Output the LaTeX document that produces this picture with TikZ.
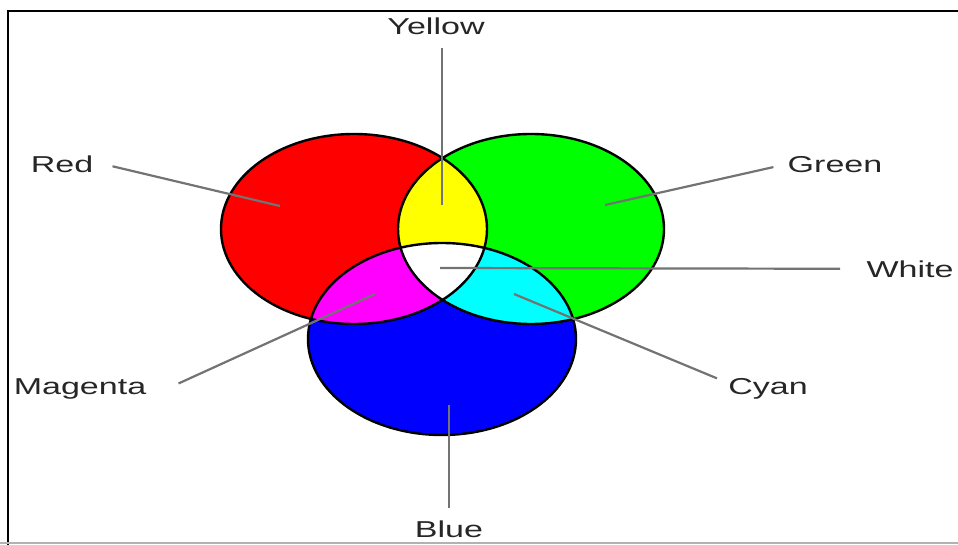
\documentclass[tikz,border=0pt]{standalone}
\usepackage{fontspec}
\setmainfont{Liberation Sans}
\usetikzlibrary{positioning}

\definecolor{addred}{RGB}{255,0,0}
\definecolor{addgreen}{RGB}{0,255,0}
\definecolor{addblue}{RGB}{0,0,255}
\definecolor{addyellow}{RGB}{255,255,0}
\definecolor{addmagenta}{RGB}{255,0,255}
\definecolor{addcyan}{RGB}{0,255,255}

\newcommand\redrim{(354,229) ellipse [x radius=133pt, y radius=95pt]}
\newcommand\greenrim{(531,229) ellipse [x radius=133pt, y radius=95pt]}
\newcommand\bluerim{(442,339) ellipse [x radius=134pt, y radius=96pt]}

\begin{document}
\begin{tikzpicture}[
  x=1pt, y=-1pt,
  lbl/.style={
    anchor=base, inner sep=0pt, xscale=1.48,
    font=\fontsize{23}{27}\selectfont, text=black!85
  },
  pointer/.style={draw=black!55, line width=2.2pt},
  rim/.style={draw=black, line width=2.4pt}
]
\useasboundingbox (0,0) rectangle (958,545);

% frame
\draw[line width=2pt] (8,545) -- (8,11) -- (958,11);
\draw[black!30, line width=1.5pt] (0,543) -- (958,543);

% primaries
\fill[addred] \redrim;
\fill[addgreen] \greenrim;
\fill[addblue] \bluerim;

% overlaps
\begin{scope}
  \clip \redrim;
  \fill[addyellow] \greenrim;
  \fill[addmagenta] \bluerim;
\end{scope}
\begin{scope}
  \clip \greenrim;
  \fill[addcyan] \bluerim;
\end{scope}
\begin{scope}
  \clip \redrim;
  \clip \greenrim;
  \fill[white] \bluerim;
\end{scope}

\draw[rim] \redrim;
\draw[rim] \greenrim;
\draw[rim] \bluerim;

% labels
\node[lbl] (yellowlbl) at (436,35) {Yellow};
\node[lbl] (redlbl) at (62,173) {Red};
\node[lbl] (greenlbl) at (835,173) {Green};
\node[lbl] (whitelbl) at (910,277) {White};
\node[lbl] (magentalbl) at (80,394) {Magenta};
\node[lbl] (cyanlbl) at (768,394) {Cyan};
\node[lbl] (bluelbl) at (449,537) {Blue};

\coordinate (yellowpt) at (442,205);
\coordinate (redpt) at (280,206);
\coordinate (greenpt) at (605,205);
\coordinate (whitept) at (440,268);
\coordinate (magentapt) at (375,294);
\coordinate (cyanpt) at (514,294);
\coordinate (bluept) at (449,405);

\draw[pointer] ([shift={(6,13)}]yellowlbl.south) -- (yellowpt);
\draw[pointer] ([shift={(19,1.5)}]redlbl.east) -- (redpt);
\draw[pointer] ([shift={(-14,2)}]greenlbl.west) -- (greenpt);
\draw[pointer] ([shift={(-26,0)}]whitelbl.west) -- (whitept);
\draw[pointer] ([shift={(32,-5)}]magentalbl.east) -- (magentapt);
\draw[pointer] ([shift={(-11,-10)}]cyanlbl.west) -- (cyanpt);
\draw[pointer] ([shift={(0,-12)}]bluelbl.north) -- (bluept);
\end{tikzpicture}
\end{document}
